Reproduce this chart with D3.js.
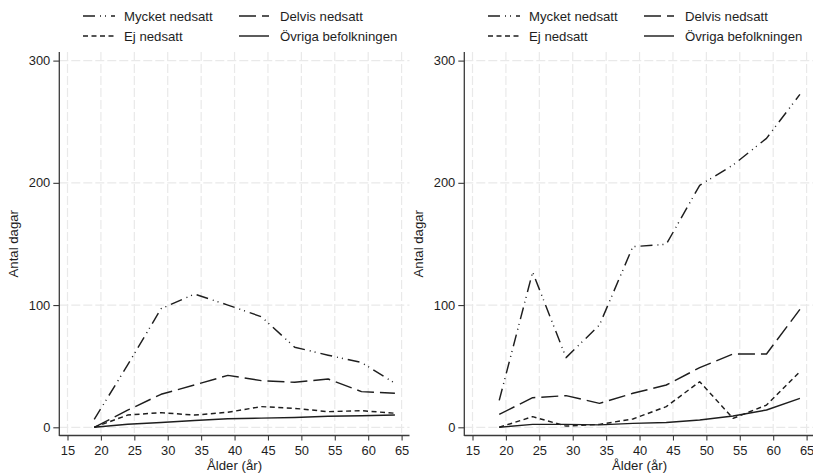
<!DOCTYPE html>
<html>
<head>
<meta charset="utf-8">
<script src="https://cdn.jsdelivr.net/npm/d3@7"></script>
<style>
  html, body { margin: 0; padding: 0; background: #fff; }
  svg { display: block; font-family: "Liberation Sans", Arial, sans-serif; }
</style>
</head>
<body>
<svg id="chart" width="813" height="473"></svg>
<script>
// Age groups (midpoints) on the x axis
const ages = [19, 24, 29, 34, 39, 44, 49, 54, 59, 64];
const xTicks = [15, 20, 25, 30, 35, 40, 45, 50, 55, 60, 65];
const yTicks = [0, 100, 200, 300];

// Series labels, in legend order
const seriesNames = ["Mycket nedsatt", "Delvis nedsatt", "Ej nedsatt", "Övriga befolkningen"];

// Left panel: antal dagar per åldersgrupp
const mycketLeft = [6.5, 51, 97, 109, 100, 90.5, 65.5, 59, 53, 36];
const delvisLeft = [0, 14, 27, 34.6, 42.5, 38.2, 36.8, 39.5, 29.2, 27.8];
const ejLeft     = [0, 10, 12, 10, 12.3, 16.9, 15.5, 12.8, 13.6, 11.5];
const ovrigaLeft = [0, 2.5, 4, 5.5, 7, 7.5, 8, 9, 9.5, 10];

// Right panel
const mycketRight = [22, 127, 57, 83.7, 147.8, 149.7, 198, 214.6, 236.4, 272.4];
const delvisRight = [10.6, 24.2, 25.9, 19.6, 27.8, 34.6, 48.8, 60, 60, 96.5];
const ejRight     = [0, 8.7, 1, 2.4, 6.8, 16.9, 37.3, 7.3, 18.2, 45.5];
const ovrigaRight = [0, 2.4, 2.4, 2, 3.2, 4, 6, 9.2, 14.2, 23.7];

const xTitle = "Ålder (år)";
const yTitle = "Antal dagar";

// Line patterns: long dash-dot-dot, long dash, short dash, solid
const dashes = ["12,5,1,4,1,5", "17,6", "5,3.5", null];

const FONT = 13.2;
const TICK_FONT = 12.9;
const INK = "#1e1e1e";
const AXIS = "#3a3a3a";
const GRID = "#e9e9e9";

const svg = d3.select("#chart");

function drawPanel(offset, seriesValues) {
  const g = svg.append("g").attr("transform", `translate(${offset},0)`);

  const plotLeft = 59.3, plotRight = 409.5, plotTop = 52, plotBottom = 435.5;
  const x = d3.scaleLinear().domain([15, 65]).range([67.5, 401.6]);
  const y = d3.scaleLinear().domain([0, 300]).range([427.3, 60.6]);

  // dashed grid
  g.append("g").selectAll("line").data(xTicks).join("line")
    .attr("x1", d => x(d)).attr("x2", d => x(d))
    .attr("y1", plotTop).attr("y2", plotBottom)
    .attr("stroke", GRID).attr("stroke-width", 1.2).attr("stroke-dasharray", "9,3");
  g.append("g").selectAll("line").data(yTicks).join("line")
    .attr("x1", plotLeft).attr("x2", plotRight)
    .attr("y1", d => y(d)).attr("y2", d => y(d))
    .attr("stroke", GRID).attr("stroke-width", 1.2).attr("stroke-dasharray", "9,3");

  // axes
  const yAxis = d3.axisLeft(y).tickValues(yTicks).tickSize(6).tickPadding(3).tickSizeOuter(0);
  const ya = g.append("g").attr("transform", `translate(${plotLeft},0)`).call(yAxis);
  const xAxis = d3.axisBottom(x).tickValues(xTicks).tickSize(5).tickPadding(5).tickSizeOuter(0);
  const xa = g.append("g").attr("transform", `translate(0,${plotBottom})`).call(xAxis);
  [ya, xa].forEach(a => {
    a.select(".domain").remove();
    a.selectAll(".tick line").attr("stroke", AXIS).attr("stroke-width", 1.1);
    a.selectAll(".tick text").attr("fill", INK).style("font-size", TICK_FONT + "px")
      .style("font-family", '"Liberation Sans", Arial, sans-serif');
  });
  g.append("line").attr("x1", plotLeft).attr("x2", plotLeft)
    .attr("y1", plotTop).attr("y2", plotBottom + 0.5)
    .attr("stroke", AXIS).attr("stroke-width", 1.3);
  g.append("line").attr("x1", plotLeft).attr("x2", plotRight)
    .attr("y1", plotBottom).attr("y2", plotBottom)
    .attr("stroke", AXIS).attr("stroke-width", 1.3);

  // axis titles
  g.append("text").attr("transform", `translate(18,${(plotTop + plotBottom) / 2}) rotate(-90)`)
    .attr("text-anchor", "middle").attr("fill", INK).style("font-size", FONT + "px").text(yTitle);
  g.append("text").attr("x", (x(15) + x(65)) / 2).attr("y", 469.5)
    .attr("text-anchor", "middle").attr("fill", INK).style("font-size", FONT + "px").text(xTitle);

  // series lines
  const line = d3.line().x(d => x(d[0])).y(d => y(d[1]));
  seriesValues.forEach((vals, i) => {
    g.append("path")
      .datum(ages.map((a, k) => [a, vals[k]]))
      .attr("d", line)
      .attr("fill", "none")
      .attr("stroke", INK)
      .attr("stroke-width", 1.45)
      .attr("stroke-linejoin", "round")
      .attr("stroke-dasharray", dashes[i]);
  });

  // legend, two columns
  const legendPos = [
    { kx: 83, kw: 32, tx: 124, ty: 16 },
    { kx: 239, kw: 30, tx: 280, ty: 16 },
    { kx: 83, kw: 32, tx: 124, ty: 36 },
    { kx: 239, kw: 30, tx: 280, ty: 36 }
  ];
  seriesNames.forEach((name, i) => {
    const p = legendPos[i];
    g.append("line").attr("x1", p.kx).attr("x2", p.kx + p.kw)
      .attr("y1", p.ty).attr("y2", p.ty)
      .attr("stroke", INK).attr("stroke-width", 1.45)
      .attr("stroke-dasharray", dashes[i]);
    g.append("text").attr("x", p.tx).attr("y", p.ty).attr("dy", "0.35em")
      .attr("fill", INK).style("font-size", FONT + "px").text(name);
  });
}

drawPanel(0, [mycketLeft, delvisLeft, ejLeft, ovrigaLeft]);
drawPanel(405, [mycketRight, delvisRight, ejRight, ovrigaRight]);
</script>
</body>
</html>
